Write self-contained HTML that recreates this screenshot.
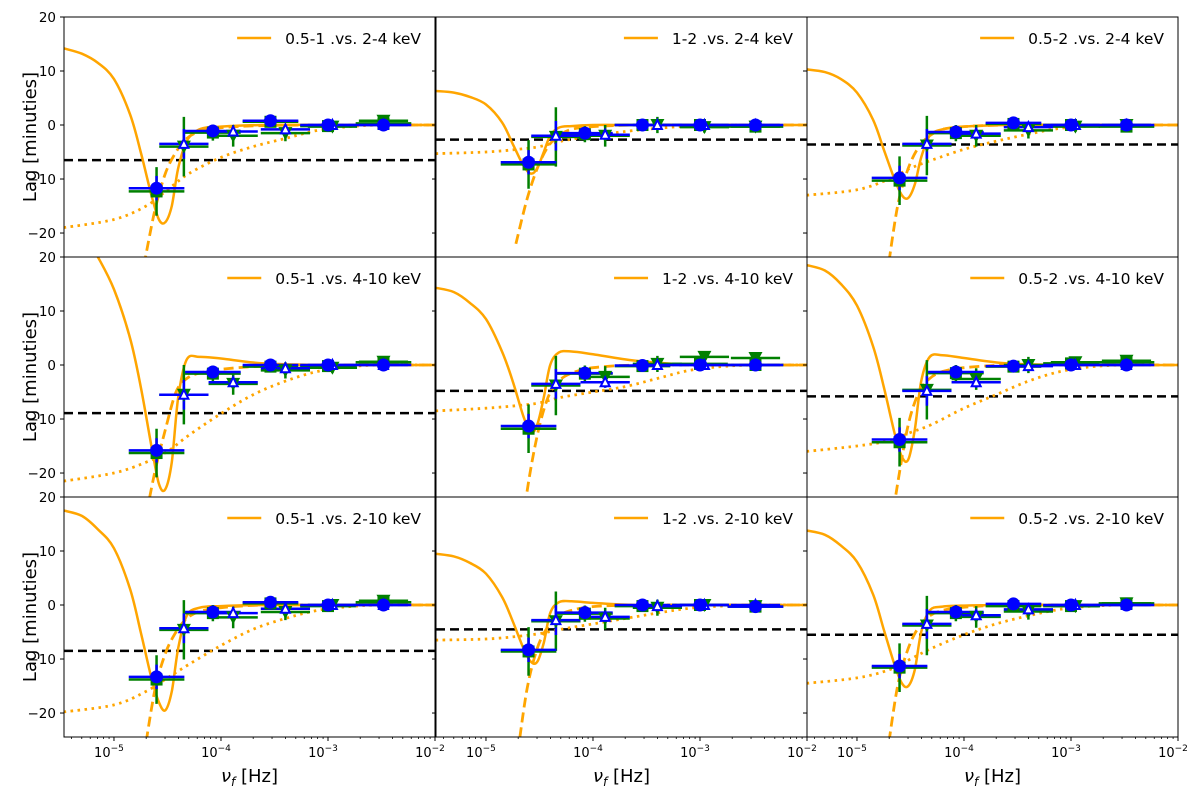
<!DOCTYPE html>
<html><head><meta charset="utf-8"><style>
body{margin:0;background:#fff}
svg{display:block;font-family:"DejaVu Sans","Liberation Sans",sans-serif}
</style></head><body>
<svg id="c" width="1200" height="800" viewBox="0 0 1200 800"></svg>
<script>
// ---- data ----
const titles=[["0.5-1 .vs. 2-4 keV","1-2 .vs. 2-4 keV","0.5-2 .vs. 2-4 keV"],
["0.5-1 .vs. 4-10 keV","1-2 .vs. 4-10 keV","0.5-2 .vs. 4-10 keV"],
["0.5-1 .vs. 2-10 keV","1-2 .vs. 2-10 keV","0.5-2 .vs. 2-10 keV"]];
const freqA=[2.5e-5,8.4e-5,2.9e-4,1.0e-3,3.3e-3];
const freqB=[4.5e-5,1.3e-4,4.0e-4,1.1e-3,3.3e-3];
const blueCirc=[[-11.7,-1.1,0.8,0,0],[-6.9,-1.5,0,0,0],[-9.8,-1.3,0.4,0,0],[-15.8,-1.3,0,0,0],[-11.3,-1.5,-0.1,0,0],[-13.8,-1.3,-0.2,0,0],[-13.3,-1.3,0.5,0,0],[-8.3,-1.4,0,0,-0.3],[-11.3,-1.3,0.2,0,0]];
const greenSq=[[-12.3,-1.4,0.6,-0.2,0.3],[-7.3,-1.7,0,0,-0.3],[-10.3,-1.5,0.2,0,-0.3],[-16.3,-1.6,-0.3,-0.2,0.5],[-11.8,-1.6,-0.2,0.2,0],[-14.3,-1.5,-0.3,0.3,0.5],[-13.8,-1.5,0.3,-0.2,0.5],[-8.6,-1.6,-0.2,0,-0.3],[-11.6,-1.5,-0.2,-0.2,0.3]];
const blueTri=[[-3.5,-1.2,-0.8,0,0],[-2,-1.8,0,0,0],[-3.5,-1.6,-0.4,0,0],[-5.5,-3.2,-0.6,0,0],[-3.5,-3.2,0,0,0],[-4.8,-3.2,-0.2,0,0],[-4.3,-1.5,-0.7,0,0],[-2.8,-2.2,-0.2,0,0],[-3.5,-1.9,-0.8,0,0]];
const greenTri=[[-4,-2,-1.5,-0.3,0.8],[-2.2,-2,0,-0.4,-0.3],[-3.8,-2,-1,-0.3,0],[-5.5,-3.5,-1,-0.5,0.6],[-3.8,-2.2,0.2,1.5,1.3],[-4.6,-2.6,0,0.5,0.8],[-4.6,-2.3,-1.3,0,0.8],[-3,-2.5,-0.5,0,-0.2],[-3.8,-2.2,-1.2,-0.2,0.3]];
const errA=[4.5,1.5,1,1,1];
const errB=[5.5,2,1.5,1,1];
const meanLag=[-6.5,-2.7,-3.6,-8.9,-4.8,-5.8,-8.5,-4.5,-5.5];
const solidGrid=[-5.47,-5.3,-5.15,-5.0,-4.85,-4.75,-4.65,-4.58,-4.52,-4.46,-4.4,-4.32,-4.2,-4.0,-3.6,-3.0,-2.0];
const solidVals=[
[14.2,13.2,11.5,8.5,2,-5,-13,-17.5,-18,-15,-8,-3,-0.8,-0.3,0,0,0],
[6.3,6,5.2,3.8,0.5,-3.5,-7.5,-9,-8,-5,-2,-0.5,-0.2,0,0,0,0],
[10.3,9.8,8.5,6,1,-4.5,-10,-13,-13.5,-11,-6,-2,-0.8,-0.3,0,0,0],
[28,25,20,14,5,-4,-15,-22,-23,-18,-6,1,1.5,1.2,0.3,0,0],
[14.3,13.5,11.5,8.5,2.5,-3,-9.5,-12.5,-11,-6,0,2.3,2.5,2,0.8,0,0],
[18.5,17.5,15,11,3.5,-4,-12.5,-17,-17.5,-12,-3,1.5,1.8,1.3,0.3,0,0],
[17.5,16.5,14,10.5,3,-5,-13.5,-18,-19.5,-16,-8,-2,-0.5,-0.2,0,0,0],
[9.5,9,7.8,5.8,1.5,-3,-8,-10.5,-10.5,-7,-1.5,0.5,0.7,0.4,0,0,0],
[13.8,13,11,8,2,-4.5,-11,-14.5,-15,-12,-5,-1,-0.3,-0.1,0,0,0]];
const dashGrid=[-4.72,-4.62,-4.52,-4.42,-4.32,-4.2,-4.0,-3.6,-3.0,-2.0];
const dashVals=[
[-26,-16,-9,-5,-2.5,-1.2,-0.5,-0.1,0,0],
[-22,-14,-8,-4,-2,-0.8,-0.3,0,0,0],
[-28,-15,-8,-4,-2,-0.8,-0.3,0,0,0],
[-30,-20,-12,-5,-2.5,-1.5,-0.8,-0.2,0,0],
[-40,-24,-13,-6,-3,-1.5,-0.5,0,0,0],
[-35,-22,-11,-5,-2.5,-1.2,-0.5,0,0,0],
[-28,-16,-9,-5,-2.5,-1.2,-0.5,0,0,0],
[-30,-16,-8,-4,-2,-1,-0.3,0,0,0],
[-28,-15,-8,-4,-2,-1,-0.4,0,0,0]];
const dotGrid=[-5.47,-5.0,-4.7,-4.5,-4.3,-4.0,-3.7,-3.4,-3.1,-2.8,-2.5,-2.0];
const dotVals=[
[-19,-17.5,-15,-12,-9,-6,-4,-2.5,-1,-0.3,0,0],
[-5.3,-5,-4.5,-4,-3,-2,-1.2,-0.6,-0.2,0,0,0],
[-13,-12,-10,-8,-6.5,-4.5,-3,-1.7,-0.6,-0.2,0,0],
[-21.5,-20,-18,-16,-13,-9,-5.5,-3,-1.2,-0.3,0,0],
[-8.5,-8,-7.5,-7,-6,-5,-4,-2.5,-1,-0.3,0,0],
[-16,-15,-14,-12.5,-11,-8,-5.5,-3,-1.2,-0.3,0,0],
[-19.8,-18.5,-16,-13.5,-11,-7.5,-4.5,-2.5,-1,-0.3,0,0],
[-6.5,-6.3,-5.8,-5.3,-4.5,-3.5,-2.5,-1.5,-0.6,-0.2,0,0],
[-14.5,-13.5,-12,-10,-8,-5.5,-3.5,-2,-0.8,-0.2,0,0]];
const yTicks=[-20,-10,0,10,20];
const xTickExp=[-5,-4,-3,-2];

// ---- layout ----
const NS="http://www.w3.org/2000/svg";
const svg=document.getElementById('c');
const colL=[64,436,807], rowT=[17,257,497], W=371, H=240;
const XMIN=-5.467, XMAX=-2, YMIN=-24.44, YMAX=20;
const ORANGE="#ffa500", GREEN="#008000", BLUE="#0000ff";
function el(tag,attrs,parent){const e=document.createElementNS(NS,tag);for(const k in attrs)e.setAttribute(k,attrs[k]);(parent||svg).appendChild(e);return e;}
function smoothPath(pts){
  let d="M"+pts[0][0].toFixed(1)+","+pts[0][1].toFixed(1);
  for(let i=0;i<pts.length-1;i++){
    const p0=pts[i-1]||pts[i],p1=pts[i],p2=pts[i+1],p3=pts[i+2]||p2;
    const c1=[p1[0]+(p2[0]-p0[0])/6,p1[1]+(p2[1]-p0[1])/6];
    const c2=[p2[0]-(p3[0]-p1[0])/6,p2[1]-(p3[1]-p1[1])/6];
    d+=" C"+c1.map(v=>v.toFixed(1))+" "+c2.map(v=>v.toFixed(1))+" "+p2[0].toFixed(1)+","+p2[1].toFixed(1);
  }
  return d;
}
for(let r=0;r<3;r++)for(let c=0;c<3;c++){
  const k=r*3+c, L=colL[c], T=rowT[r];
  const sx=lf=>L+(lf-XMIN)/(XMAX-XMIN)*W;
  const sy=v=>T+(YMAX-v)/(YMAX-YMIN)*H;
  const g=el('g',{});
  
  
  const cp=el('clipPath',{id:'cp'+k},g);
  el('rect',{x:L,y:T,width:W,height:H},cp);
  const plot=el('g',{'clip-path':'url(#cp'+k+')'},g);
  const ml=el('line',{x1:L,x2:L+W,y1:sy(meanLag[k]),y2:sy(meanLag[k]),stroke:'#000','stroke-width':2.5,'stroke-dasharray':'9,5'},plot);
  
  
  const sp=el('path',{d:smoothPath(solidGrid.map((x,i)=>[sx(x),sy(solidVals[k][i])])),fill:'none',stroke:ORANGE,'stroke-width':2.5},plot);
  
  
  const dp=el('path',{d:smoothPath(dashGrid.map((x,i)=>[sx(x),sy(dashVals[k][i])])),fill:'none',stroke:ORANGE,'stroke-width':2.8,'stroke-dasharray':'10,5'},plot);
  
  
  const tp=el('path',{d:smoothPath(dotGrid.map((x,i)=>[sx(x),sy(dotVals[k][i])])),fill:'none',stroke:ORANGE,'stroke-width':2.8,'stroke-dasharray':'2.5,4.5'},plot);
  
  
  function errbars(freqs,vals,errs,color,hw,scale){
    freqs.forEach((f,i)=>{const lf=Math.log10(f),y=sy(vals[i]);
      const e=el('path',{d:`M${sx(lf-hw)},${y}H${sx(lf+hw)}M${sx(lf)},${sy(vals[i]+errs[i]*scale)}V${sy(vals[i]-errs[i]*scale)}`,stroke:color,'stroke-width':2.5,fill:'none'},plot);
      
      });
  }
  errbars(freqA,greenSq[k],errA,GREEN,0.26,1);
  errbars(freqB,greenTri[k],errB,GREEN,0.23,1);
  errbars(freqA,blueCirc[k],errA,BLUE,0.26,0.5);
  errbars(freqB,blueTri[k],errB,BLUE,0.23,0.5);
  freqA.forEach((f,i)=>{const x=sx(Math.log10(f)),y=sy(greenSq[k][i]);
    const m=el('rect',{x:x-6,y:y-6,width:12,height:12,fill:GREEN},plot);
    
    });
  freqB.forEach((f,i)=>{const x=sx(Math.log10(f)),y=sy(greenTri[k][i]);
    const m=el('path',{d:`M${x-7},${y-6}L${x+7},${y-6}L${x},${y+7}Z`,fill:GREEN},plot);
    
    });
  freqB.forEach((f,i)=>{const x=sx(Math.log10(f)),y=sy(blueTri[k][i]);
    const m=el('path',{d:`M${x-4.5},${y+4}L${x+4.5},${y+4}L${x},${y-5}Z`,fill:'#fff',stroke:BLUE,'stroke-width':2},plot);
    
    });
  freqA.forEach((f,i)=>{const x=sx(Math.log10(f)),y=sy(blueCirc[k][i]);
    const m=el('circle',{cx:x,cy:y,r:6.5,fill:BLUE},plot);
    
    });
  const fr=el('rect',{x:L,y:T,width:W,height:H,fill:'none',stroke:'#000','stroke-width':1},g);
  
  
  yTicks.forEach(t=>{const y=sy(t);el('line',{x1:L-4,x2:L,y1:y,y2:y,stroke:'#000'},g);
    if(c===0){const tx=el('text',{x:L-8,y:y+5,'text-anchor':'end','font-size':13.5},g);tx.textContent=t<0?'\u2212'+(-t):String(t);
      
      }});
  if(r===2){
    xTickExp.forEach(e=>{const x=sx(e);el('line',{x1:x,x2:x,y1:T+H,y2:T+H+4,stroke:'#000'},g);
      const tx=el('text',{x:x-5,y:T+H+20,'text-anchor':'middle','font-size':13},g);
      
      
      tx.textContent='10';
      const ts=el('tspan',{dy:-6,'font-size':9},tx);ts.textContent='\u2212'+(-e);});
    for(let e=-6;e<-2;e++)for(let m=2;m<10;m++){const lf=e+Math.log10(m);if(lf<XMIN||lf>XMAX)continue;
      const x=sx(lf);el('line',{x1:x,x2:x,y1:T+H,y2:T+H+2,stroke:'#000','stroke-width':0.8},g);}
    const xl=el('text',{x:L+W/2,y:782,'text-anchor':'middle','font-size':18},g);
    
    
    xl.innerHTML='<tspan font-style="italic">ν</tspan><tspan font-size="12" dy="4" font-style="italic">f</tspan><tspan dy="-4"> [Hz]</tspan>';
  }
  if(c===0){
    const yl=el('text',{x:0,y:0,'text-anchor':'middle','font-size':18,transform:`translate(36,${T+H/2}) rotate(-90)`},g);
    yl.textContent='Lag [minuties]';
    
    
  }
  const lg=el('g',{},g);
  
  
  const lt=el('text',{x:L+357,y:T+27,'text-anchor':'end','font-size':15.5},lg);
  lt.textContent=titles[r][c];
  const tw=lt.getComputedTextLength();
  const xs=L+357-tw;
  el('line',{x1:xs-48,x2:xs-14,y1:T+21,y2:T+21,stroke:ORANGE,'stroke-width':2.5},lg);
}
</script>
</body></html>
